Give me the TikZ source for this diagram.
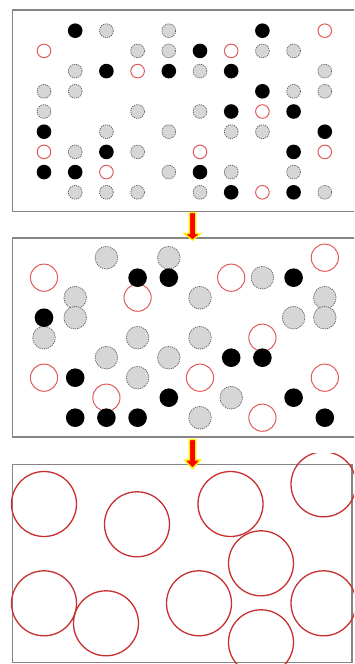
\documentclass[tikz,border=0pt]{standalone}
\begin{document}
\begin{tikzpicture}[x=1pt,y=-1pt]
\definecolor{redA}{HTML}{E05A5A}
\definecolor{redB}{HTML}{C83030}
\definecolor{grayfill}{HTML}{D6D6D6}
\definecolor{grayline}{HTML}{5A5A5A}
\definecolor{frameline}{HTML}{858585}
\tikzset{
  frame/.style={draw=frameline, line width=1.4pt},
  blk/.style={fill=black},
  gry/.style={fill=grayfill, draw=grayline, dash pattern=on 1.2pt off 1pt, line width=0.7pt},
  redsmall/.style={draw=redA, line width=1pt},
  redbig/.style={draw=redB, line width=1.3pt},
  flowarrow/.style={fill=red, draw=yellow, line width=1.4pt, line join=miter}
}
\useasboundingbox (0,0) rectangle (354,664);
\clip (0,0) rectangle (354,664);
% panels
\draw[frame] (12.5,10) rectangle (362,211.5);
\draw[frame] (12.5,238) rectangle (362,437);
\draw[frame] (12.5,464.3) rectangle (352,662.7);
% panel 1
\foreach \c/\r in {3/1,5/1,4/2,5/2,8/2,9/2,2/3,6/3,10/3,1/4,2/4,9/4,10/4,1/5,4/5,6/5,3/6,5/6,7/6,8/6,2/7,4/7,5/8,7/8,9/8,2/9,3/9,4/9,6/9,10/9}
  \draw[gry] ({44+31.2*(\c-1)},{30.7+20.2*(\r-1)}) circle (6.9pt);
\foreach \c/\r in {10/1,1/2,7/2,4/3,8/5,1/7,6/7,10/7,3/8,8/9}
  \draw[redsmall] ({44+31.2*(\c-1)},{30.7+20.2*(\r-1)}) circle (6.8pt);
\foreach \c/\r in {2/1,8/1,6/2,3/3,5/3,7/3,8/4,7/5,9/5,1/6,10/6,3/7,9/7,1/8,2/8,6/8,7/9,9/9}
  \fill[blk] ({44+31.2*(\c-1)},{30.7+20.2*(\r-1)}) circle (7.3pt);
% panel 2
\foreach \c/\r in {3/1,5/1,8/2,2/3,6/3,10/3,2/4,9/4,10/4,1/5,4/5,6/5,3/6,5/6,4/7,7/8,6/9}
  \draw[gry] ({44+31.2*(\c-1)},{257.7+20*(\r-1)}) circle (11.3pt);
\foreach \c/\r in {10/1,1/2,7/2,4/3,8/5,1/7,6/7,10/7,3/8,8/9}
  \draw[redsmall] ({44+31.2*(\c-1)},{257.7+20*(\r-1)}) circle (13.6pt);
\foreach \c/\r in {4/2,5/2,9/2,1/4,7/6,8/6,2/7,5/8,9/8,2/9,3/9,4/9,10/9}
  \fill[blk] ({44+31.2*(\c-1)},{257.7+20*(\r-1)}) circle (9.3pt);
% panel 3
\begin{scope}
\clip (0,453) rectangle (354,664);
\foreach \x/\y in {44/504,137/524.3,230.5/504,323.5/484.3,261/563.3,44/603.3,106/623.3,199/603.3,323.5/603.3,261/642.3}
  \draw[redbig] (\x,\y) circle (32.5pt);
\end{scope}
% arrows
\path[flowarrow] (189.3,212.5) -- (195.7,212.5) -- (195.7,233.5) -- (200.5,233.5) -- (192.5,240.3) -- (184.5,233.5) -- (189.3,233.5) -- cycle;
\path[flowarrow] (189.3,439.5) -- (195.7,439.5) -- (195.7,460) -- (200.5,460) -- (192.5,468.5) -- (184.5,460) -- (189.3,460) -- cycle;
\end{tikzpicture}
\end{document}
